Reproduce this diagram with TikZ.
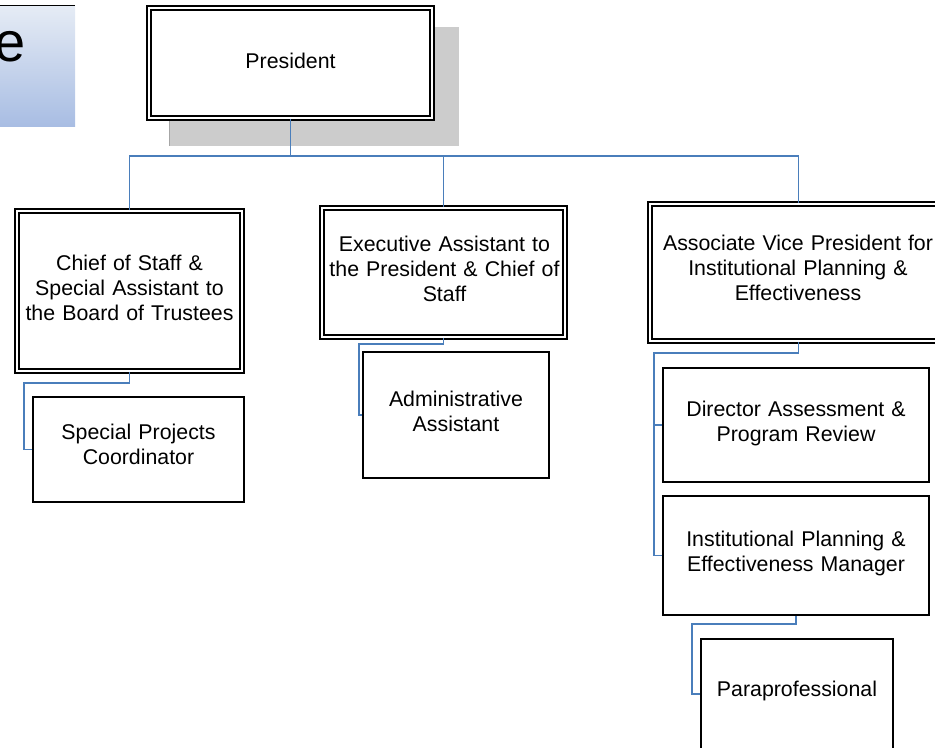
\documentclass[tikz,border=0pt]{standalone}
\usepackage{fontspec}
\setmainfont{Liberation Sans}
\usetikzlibrary{fit}
\definecolor{conn}{RGB}{74,126,187}
\definecolor{shadowgray}{RGB}{204,204,204}
\definecolor{gradtop}{RGB}{230,236,245}
\definecolor{gradbot}{RGB}{168,189,227}
\begin{document}
\begin{tikzpicture}[x=0.75pt, y=-0.75pt,
  box/.style={draw=black, line width=1.2pt, inner sep=0pt, fill=white},
  dbox/.style={box, double=white, double distance=2.2pt},
  txt/.style={font=\fontsize{16}{18.75}\selectfont, text width=240pt, align=center, inner sep=0pt, anchor=base},
  link/.style={draw=conn, line width=1.4pt},
]
\useasboundingbox (0,0) rectangle (935,747);
\clip (0,0) rectangle (935,747);

% title fragment
\shade[top color=gradtop, bottom color=gradbot] (0,5) rectangle (75,126);
\draw[line width=1.2pt] (0,5.5) -- (75,5.5);
\node[font=\fontsize{42}{50}\selectfont, inner sep=0pt, anchor=base east] (title) at (26,61) {e};

% president shadow
\fill[shadowgray] (169,27) rectangle (459,146);
\draw[black!35, line width=0.8pt] (169.5,27) -- (169.5,146);

% boxes
\node[dbox, fit={(149,8) (432,118)}] (pres) {};
\node[dbox, fit={(17,211) (242,371)}] (chief) {};
\node[box,  fit={(33,397) (244,502)}] (spec) {};
\node[dbox, fit={(322,208) (565,337)}] (exec) {};
\node[box,  fit={(363,352) (549,478)}] (admin) {};
\node[dbox, fit={(650,204) (947,341)}] (avp) {};
\node[box,  fit={(663,368) (929,482)}] (dir) {};
\node[box,  fit={(663,496) (929,615)}] (inst) {};
\node[box,  fit={(701,639) (893,749)}] (para) {};

% connectors
\coordinate (bus) at (290.5,156);
\coordinate (c1) at (24,383);
\coordinate (c2) at (359,344);
\coordinate (c3) at (654,353);
\coordinate (c4) at (692,624);
\draw[link] (pres.south) -- (pres.south |- bus);
\draw[link] (chief.north) -- (chief.north |- bus) -- (avp.north |- bus) -- (avp.north);
\draw[link] (exec.north) -- (exec.north |- bus);
\draw[link] (chief.south) |- (c1) |- (spec.west);
\draw[link] (exec.south) |- (c2) |- (admin.west);
\draw[link] (avp.south) |- (c3) |- (dir.west);
\draw[link] (c3) |- (inst.west);
\draw[link] (inst.south) |- (c4) |- (para.west);

% texts
\node[txt] (tpres) at (290.5,68) {President};
\node[txt] (tchief) at (129.5,270) {Chief of Staff \&\\Special Assistant to\\the Board of Trustees};
\node[txt] (tspec) at (138.5,439) {Special Projects\\Coordinator};
\node[txt] (texec) at (444.5,251) {Executive Assistant to\\the President \& Chief of\\Staff};
\node[txt] (tadmin) at (456,406) {Administrative\\Assistant};
\node[txt] (tavp) at (798,250) {Associate Vice President for\\Institutional Planning \&\\Effectiveness};
\node[txt] (tdir) at (796,416) {Director Assessment \&\\Program Review};
\node[txt] (tinst) at (796,546) {Institutional Planning \&\\Effectiveness Manager};
\node[txt] (tpara) at (797,696) {Paraprofessional};
\end{tikzpicture}
\end{document}
